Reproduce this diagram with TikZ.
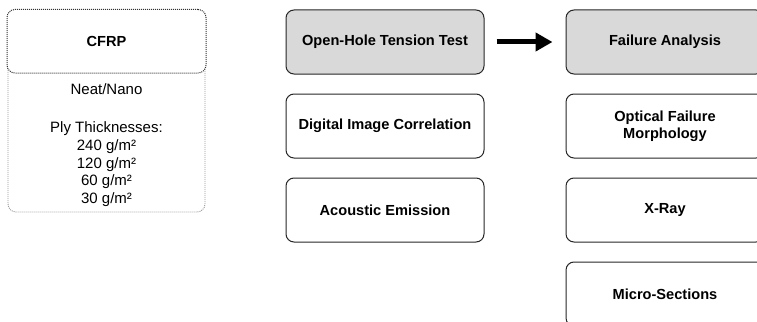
\documentclass[tikz,border=0pt]{standalone}
\usepackage{fontspec}
\setmainfont{Liberation Sans}
\usetikzlibrary{arrows.meta}
\begin{document}
\begin{tikzpicture}[x=1pt,y=-1pt,
  box/.style={draw=black!85, line width=1pt, rounded corners=8pt,
    minimum width=198pt, minimum height=64pt, inner sep=0pt, align=center,
    font=\bfseries\fontsize{14.6}{17}\selectfont},
  graybox/.style={box, fill=black!15},
  plain/.style={font=\fontsize{15}{17}\selectfont, inner sep=0pt,
    text height=10.8pt, text depth=0pt, anchor=center},
  flow/.style={line width=5pt, -{Triangle[length=17pt,width=18pt]}}]
\useasboundingbox (0,0) rectangle (757,321);
\clip (0,0) rectangle (757,321);
% CFRP block
\draw[black!40, line width=0.9pt, dash pattern=on 1pt off 1pt, rounded corners=8pt]
  (8,40) rectangle (205,212);
\node[box, draw=black!80, dash pattern=on 1pt off 1pt, fill=white,
  minimum width=199pt, minimum height=63.5pt] (cfrp) at (106.5,41.25) {CFRP};
\node[plain] (t1) at (106.5,89) {Neat/Nano};
\node[plain] (t2) at (106.5,127) {Ply Thicknesses:};
\node[plain] (t3) at (106.5,145) {240 g/m²};
\node[plain] (t4) at (106.5,163) {120 g/m²};
\node[plain] (t5) at (106.5,180.5) {60 g/m²};
\node[plain] (t6) at (106.5,198) {30 g/m²};
% middle column
\node[graybox] (oht) at (385,42) {Open-Hole Tension Test};
\node[box] (dic) at (385,126) {Digital Image Correlation};
\node[box] (ae) at (385,210) {Acoustic Emission};
% right column
\node[graybox] (fa) at (665,42) {Failure Analysis};
\node[box] (ofm) at (665,126) {Optical Failure\\Morphology};
\node[box] (xr) at (665,210) {X-Ray};
\node[box] (ms) at (665,294) {Micro-Sections};
% arrow
\draw[flow, shorten <=12pt, shorten >=13pt] (oht.east) -- (fa.west);
\end{tikzpicture}
\end{document}
